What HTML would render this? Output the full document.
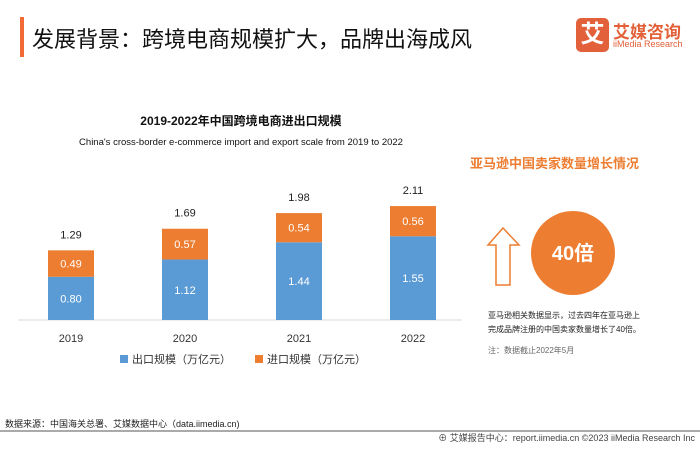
<!DOCTYPE html>
<html><head><meta charset="utf-8"><style>
body{margin:0;width:700px;height:455px;background:#fff;position:relative;overflow:hidden;font-family:"Liberation Sans","Noto Sans CJK SC",sans-serif}
.a{position:absolute;white-space:nowrap}
</style></head><body>
<div class="a" style="left:20px;top:17px;width:4px;height:40px;background:#f26a35"></div>
<div class="a" style="left:32px;top:22px;font-size:22px;color:#111">发展背景：跨境电商规模扩大，品牌出海成风</div>
<div class="a" style="left:576px;top:18px;width:33px;height:34px;background:#e2603a;border-radius:5px;color:#fff;font-size:24px;font-weight:bold;text-align:center;line-height:34px">艾</div>
<div class="a" style="left:613px;top:18px;font-size:17px;font-weight:bold;color:#e2603a">艾媒咨询</div>
<div class="a" style="left:613px;top:39px;font-size:9px;color:#e2603a">iiMedia Research</div>

<svg class="a" style="left:0;top:0" width="700" height="455">
<text x="241" y="125" text-anchor="middle" font-size="12" font-weight="bold" fill="#111">2019-2022年中国跨境电商进出口规模</text>
<text x="241" y="145" text-anchor="middle" font-size="9.5" fill="#111">China's cross-border e-commerce import and export scale from 2019 to 2022</text>
<line x1="18" y1="320" x2="462" y2="320" stroke="#d9d9d9"/>
<g id="bars"></g>
<rect x="120" y="355" width="8" height="8" fill="#5b9bd5"/>
<text x="132" y="363" font-size="11" fill="#333">出口规模（万亿元）</text>
<rect x="255" y="355" width="8" height="8" fill="#ed7d31"/>
<text x="267" y="363" font-size="11" fill="#333">进口规模（万亿元）</text>

<text x="470" y="168" font-size="13" font-weight="bold" fill="#ed7d31">亚马逊中国卖家数量增长情况</text>
<polygon points="503,228 519,245 510,245 510,285 496,285 496,245 488,245" fill="none" stroke="#ed7d31" stroke-width="1.5"/>
<circle cx="573" cy="253" r="42" fill="#ed7d31"/>
<text x="573" y="260" text-anchor="middle" font-size="20" font-weight="bold" fill="#fff">40倍</text>
<text x="488" y="318" font-size="8" fill="#222">亚马逊相关数据显示，过去四年在亚马逊上</text>
<text x="488" y="332" font-size="8" fill="#222">完成品牌注册的中国卖家数量增长了40倍。</text>
<text x="488" y="353" font-size="8" fill="#666">注：数据截止2022年5月</text>

<text x="5" y="427" font-size="9" fill="#222">数据来源：中国海关总署、艾媒数据中心（data.iimedia.cn)</text>
<line x1="0" y1="431" x2="700" y2="431" stroke="#555" stroke-width="1"/>
<text x="695" y="441" text-anchor="end" font-size="9" fill="#444">⊕ 艾媒报告中心：report.iimedia.cn  ©2023  iiMedia Research  Inc</text>
</svg>
<script>
const years=["2019","2020","2021","2022"];
const exportVals=[0.80,1.12,1.44,1.55];
const importVals=[0.49,0.57,0.54,0.56];
const totals=["1.29","1.69","1.98","2.11"];
const NS="http://www.w3.org/2000/svg";
const g=document.getElementById('bars');
const x0=71,step=114,bw=46,base=320,k=54;
const xs=i=>x0+i*step;const ys=v=>base-v*k;
function el(t,a){const e=document.createElementNS(NS,t);for(const n in a)e.setAttribute(n,a[n]);g.appendChild(e);return e;}
years.forEach((y,i)=>{
 const cx=xs(i),e=exportVals[i],m=importVals[i];
 const r1=el('rect',{x:cx-bw/2,y:ys(e),width:bw,height:e*k,fill:'#5b9bd5'});
 
 
 const r2=el('rect',{x:cx-bw/2,y:ys(e+m),width:bw,height:m*k,fill:'#ed7d31'});
 
 
 const t1=el('text',{x:cx,y:ys(e/2)+4,'text-anchor':'middle','font-size':11,fill:'#fff'});t1.textContent=e.toFixed(2);
 
 
 const t2=el('text',{x:cx,y:ys(e+m/2)+4,'text-anchor':'middle','font-size':11,fill:'#fff'});t2.textContent=m.toFixed(2);
 
 
 const t3=el('text',{x:cx,y:ys(e+m)-12,'text-anchor':'middle','font-size':11,fill:'#222'});t3.textContent=totals[i];
 
 
 const t4=el('text',{x:cx,y:342,'text-anchor':'middle','font-size':11,fill:'#333'});t4.textContent=y;
 
 
});
</script>
</body></html>
